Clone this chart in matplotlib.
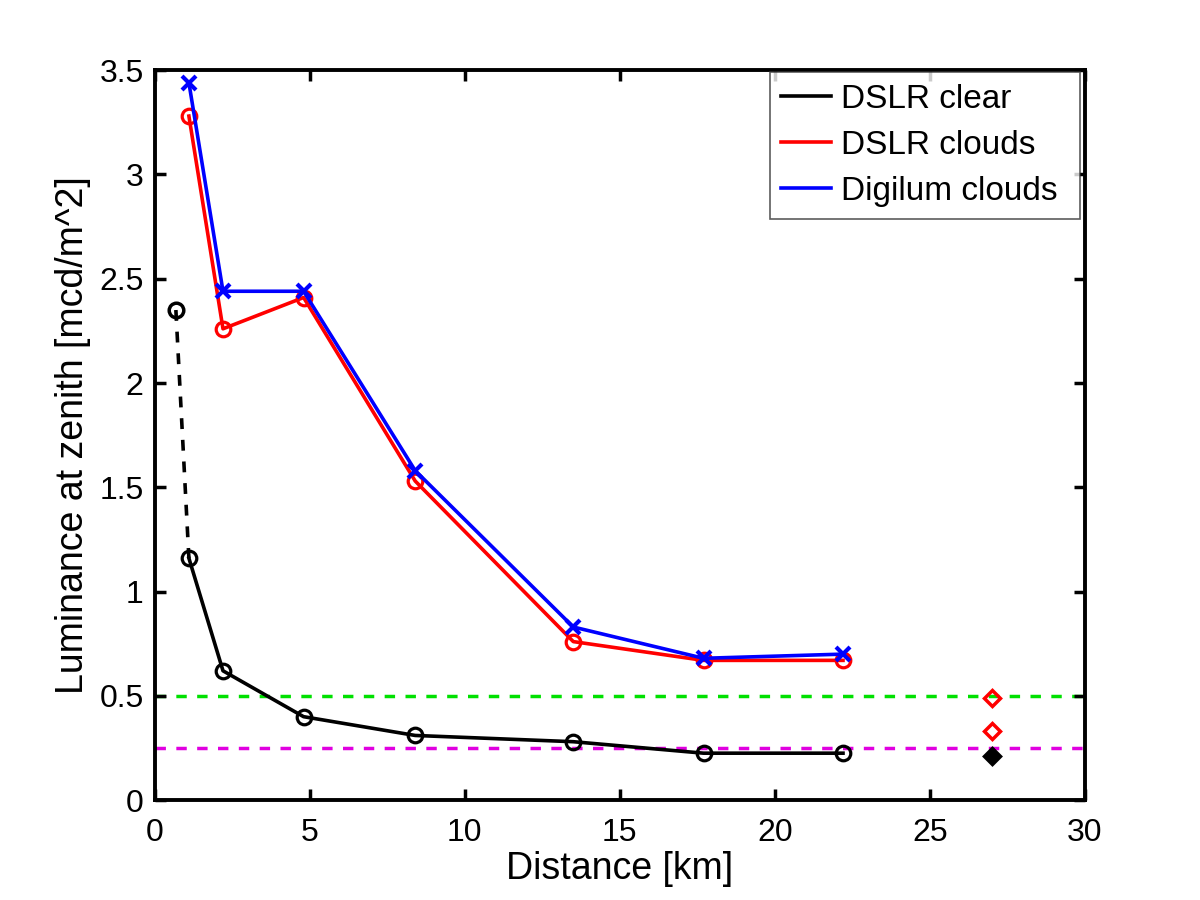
import matplotlib
matplotlib.use('Agg')
import matplotlib.pyplot as plt

plt.rcParams['font.family'] = ['Liberation Sans', 'DejaVu Sans']

# distances [km]
dist = [1.1, 2.2, 4.8, 8.4, 13.5, 17.7, 22.2]
dslr_clear = [1.16, 0.62, 0.40, 0.31, 0.28, 0.225, 0.225]
dslr_clouds = [3.28, 2.26, 2.41, 1.53, 0.76, 0.67, 0.67]
digilum_clouds = [3.44, 2.44, 2.44, 1.58, 0.83, 0.68, 0.70]

# closest point (dashed link)
near_x = [0.68, 1.1]
near_y = [2.35, 1.16]

# reference points at 27 km
ref_x = 27
ref_red = [0.49, 0.33]
ref_black = 0.21

green_level = 0.5
magenta_level = 0.25

fig = plt.figure(figsize=(12, 9), dpi=100)
ax = fig.add_axes([0.129, 0.111, 0.775, 0.811])

ax.axhline(green_level, color='#00e000', ls=(0, (3, 3)), lw=2.5, zorder=1)
ax.axhline(magenta_level, color='#e000e0', ls=(0, (3, 3)), lw=2.5, zorder=1)

ax.plot(near_x, near_y, 'k--', lw=2.6, dashes=(3, 3))
ax.plot(near_x[0], near_y[0], 'ko', mfc='none', ms=10.5, mew=2.5)

ax.plot(dist, dslr_clear, 'k-', lw=2.6, label='DSLR clear')
ax.plot(dist, dslr_clear, 'ko', mfc='none', ms=10.5, mew=2.3)
ax.plot(dist, dslr_clouds, '-', color='#ff0000', lw=2.6, label='DSLR clouds')
ax.plot(dist, dslr_clouds, 'o', color='#ff0000', mfc='none', ms=10.5, mew=2.3)
ax.plot(dist, digilum_clouds, '-', color='#0000ff', lw=2.6, label='Digilum clouds')
ax.plot(dist, digilum_clouds, 'x', color='#0000ff', ms=10, mew=3)

ax.plot([ref_x] * len(ref_red), ref_red, 'D', color='#ff0000', mfc='none', ms=8, mew=2.5, ls='none')
ax.plot(ref_x, ref_black, 'D', color='k', mfc='k', ms=8, mew=2.5)

ax.set_xlim(0, 30)
ax.set_ylim(0, 3.5)
ax.set_xticks([0, 5, 10, 15, 20, 25, 30])
ax.set_yticks([0, 0.5, 1, 1.5, 2, 2.5, 3, 3.5])
ax.set_yticklabels(['0', '0.5', '1', '1.5', '2', '2.5', '3', '3.5'])
ax.tick_params(direction='in', length=8, width=2.5, labelsize=23, top=True, right=True)
ax.tick_params(axis='x', pad=13)
ax.tick_params(axis='y', pad=8)
for s in ax.spines.values():
    s.set_linewidth(2.8)

ax.set_xlabel('Distance [km]', fontsize=27, labelpad=2)
ax.set_ylabel('Luminance at zenith [mcd/m^2]', fontsize=27, labelpad=6)

# box stretched to match the wide legend frame
leg = ax.legend(loc='upper left', bbox_to_anchor=(0.661, 0.0, 0.334, 0.997), mode='expand',
                fontsize=24, fancybox=False, edgecolor='#333333',
                handlelength=1.5, borderaxespad=0.0, labelspacing=0.45, handletextpad=0.3,
                borderpad=0.35)
leg.get_frame().set_linewidth(1.2)

fig.savefig('out.png')
